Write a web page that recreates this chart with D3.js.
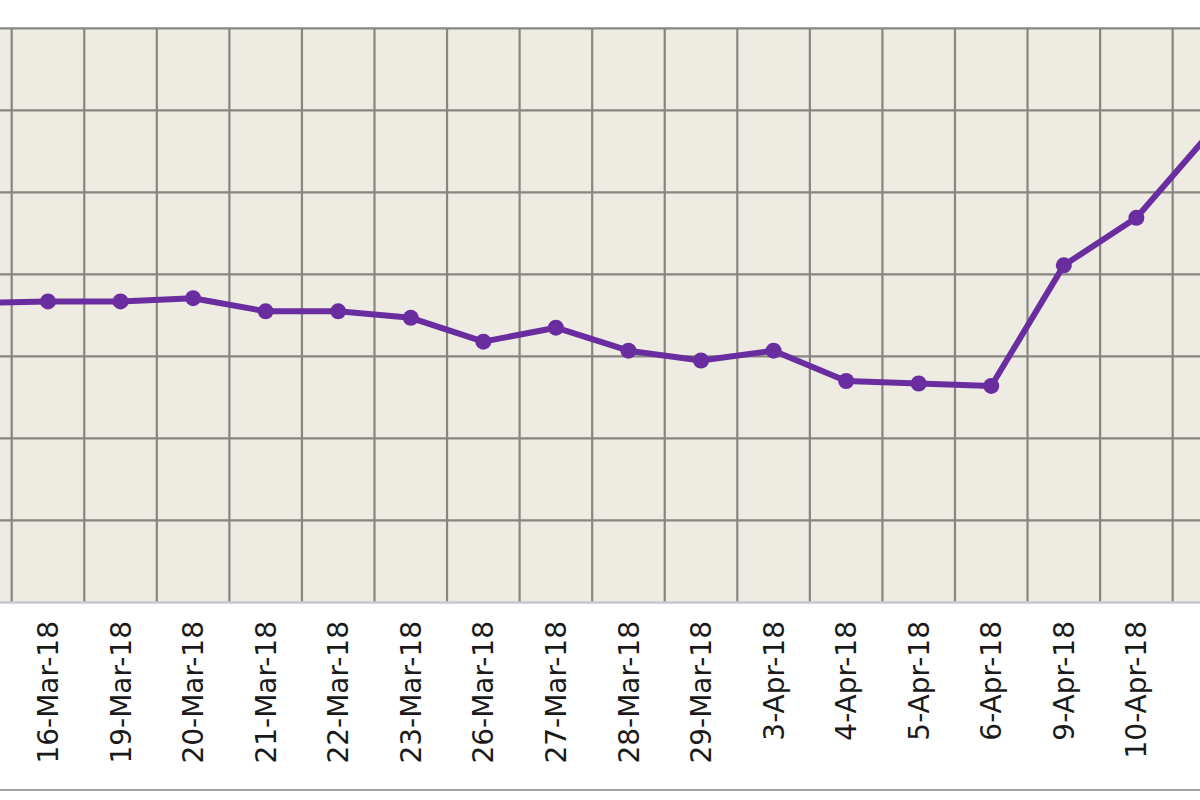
<!DOCTYPE html>
<html>
<head>
<meta charset="utf-8">
<script src="https://cdn.jsdelivr.net/npm/d3@7"></script>
<style>
  html, body { margin: 0; padding: 0; background: #fff; }
  svg { display: block; }
</style>
</head>
<body>
<div class="containers"></div>
<script>
// trading days (first and last are partly outside the visible crop)
const dates = ['15-Mar-18', '16-Mar-18', '19-Mar-18', '20-Mar-18', '21-Mar-18', '22-Mar-18',
  '23-Mar-18', '26-Mar-18', '27-Mar-18', '28-Mar-18', '29-Mar-18', '3-Apr-18',
  '4-Apr-18', '5-Apr-18', '6-Apr-18', '9-Apr-18', '10-Apr-18', '11-Apr-18']
const values = [36.5, 36.7, 36.7, 37.1, 35.5, 35.5, 34.7, 31.8, 33.5, 30.7, 29.5, 30.7,
  27.0, 26.7, 26.4, 41.1, 46.9, 57.1]
const yTicks = [0, 10, 20, 30, 40, 50, 60, 70]

const width = 1200
const height = 800
const plotTop = 28.3
const plotBottom = 602.5
const step = 72.56
const firstEdge = 11.7 // left edge of the 16-Mar band

const svg = d3.select('.containers')
  .append('svg')
  .attr('width', width)
  .attr('height', height)
  .attr('viewBox', [0, 0, width, height])

const x = d3.scaleBand()
  .domain(dates)
  .range([firstEdge - step, firstEdge - step + dates.length * step])
  .paddingInner(0)
  .paddingOuter(0)

const y = d3.scaleLinear()
  .domain([0, 70])
  .range([plotBottom, plotTop])

const cx = d => x(d) + x.bandwidth() / 2

// plot background
svg.append('rect')
  .attr('x', x.range()[0])
  .attr('y', plotTop)
  .attr('width', x.range()[1] - x.range()[0])
  .attr('height', plotBottom - plotTop)
  .attr('fill', '#edebe2')

const grid = svg.append('g')
  .attr('stroke', '#878681')
  .attr('stroke-width', 2.2)

// horizontal grid (not the baseline)
grid.selectAll('line.h')
  .data(yTicks.filter(d => d > 0))
  .join('line')
  .attr('class', 'h')
  .attr('x1', x.range()[0])
  .attr('x2', x.range()[1])
  .attr('y1', d => y(d))
  .attr('y2', d => y(d))

// vertical grid at band boundaries
grid.selectAll('line.v')
  .data(dates)
  .join('line')
  .attr('class', 'v')
  .attr('x1', d => x(d))
  .attr('x2', d => x(d))
  .attr('y1', plotTop)
  .attr('y2', plotBottom)

// baseline
svg.append('line')
  .attr('x1', x.range()[0])
  .attr('x2', x.range()[1])
  .attr('y1', y(0))
  .attr('y2', y(0))
  .attr('stroke', '#c3c8d2')
  .attr('stroke-width', 2.5)

const line = d3.line()
  .x((d, i) => cx(dates[i]))
  .y(d => y(d))

svg.append('path')
  .datum(values)
  .attr('d', line)
  .attr('fill', 'none')
  .attr('stroke', '#6a2da0')
  .attr('stroke-width', 6)
  .attr('stroke-linejoin', 'round')

svg.append('g')
  .selectAll('circle')
  .data(values)
  .join('circle')
  .attr('cx', (d, i) => cx(dates[i]))
  .attr('cy', d => y(d))
  .attr('r', 8)
  .attr('fill', '#6a2da0')

// rotated category labels (only those whose column is inside the crop)
svg.append('g')
  .selectAll('text')
  .data(dates.filter(d => cx(d) > 0 && cx(d) < width))
  .join('text')
  .attr('transform', d => `translate(${cx(d)},621) rotate(-90)`)
  .attr('dy', '0.36em')
  .attr('text-anchor', 'end')
  .attr('font-family', 'DejaVu Sans, Verdana, sans-serif')
  .attr('font-size', 28)
  .attr('fill', '#1a1a1a')
  .text(d => d)

// lower frame line
svg.append('line')
  .attr('x1', 0)
  .attr('x2', width)
  .attr('y1', 790)
  .attr('y2', 790)
  .attr('stroke', '#a3a3a3')
  .attr('stroke-width', 2)
</script>
</body>
</html>
